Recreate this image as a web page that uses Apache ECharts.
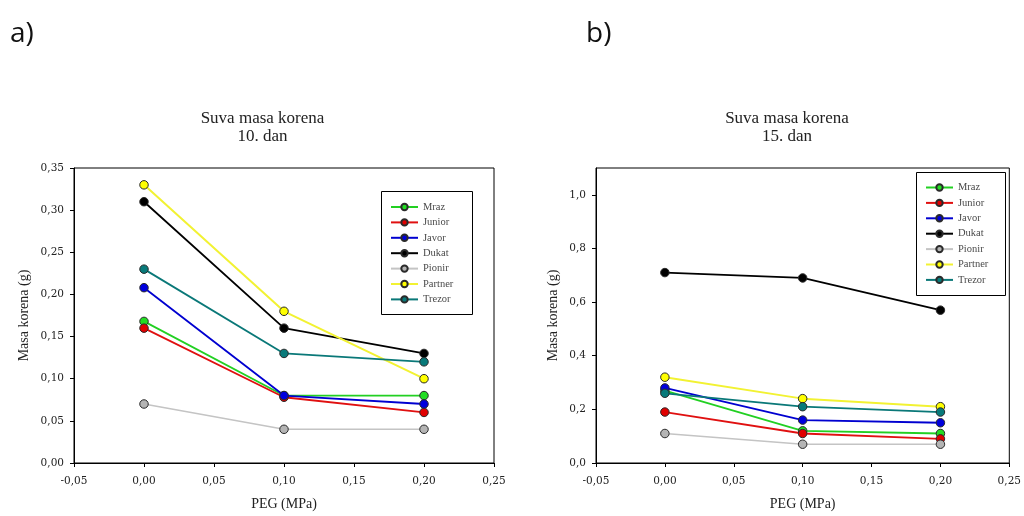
<!DOCTYPE html>
<html>
<head>
<meta charset="utf-8">
<script src="https://cdn.jsdelivr.net/npm/echarts@6/dist/echarts.min.js"></script>
<style>
  html, body { margin: 0; padding: 0; background: #fff; }
  #chart { width: 1024px; height: 516px; }
</style>
</head>
<body>
<div id="chart"></div>
<script>
// PEG concentration levels (MPa)
const peg = [0.0, 0.1, 0.2];

// Cultivar names
const cultivars = ['Mraz', 'Junior', 'Javor', 'Dukat', 'Pionir', 'Partner', 'Trezor'];

// Dry root mass (g), day 10
const day10Mraz    = [0.168, 0.080, 0.080];
const day10Junior  = [0.160, 0.078, 0.060];
const day10Javor   = [0.208, 0.080, 0.070];
const day10Dukat   = [0.310, 0.160, 0.130];
const day10Pionir  = [0.070, 0.040, 0.040];
const day10Partner = [0.330, 0.180, 0.100];
const day10Trezor  = [0.230, 0.130, 0.120];

// Dry root mass (g), day 15
const day15Mraz    = [0.27, 0.12, 0.11];
const day15Junior  = [0.19, 0.11, 0.09];
const day15Javor   = [0.28, 0.16, 0.15];
const day15Dukat   = [0.71, 0.69, 0.57];
const day15Pionir  = [0.11, 0.07, 0.07];
const day15Partner = [0.32, 0.24, 0.21];
const day15Trezor  = [0.26, 0.21, 0.19];

// Axis tick settings
const xTicks = { min: -0.05, max: 0.25, step: 0.05 };
const yTicks10 = { min: 0, max: 0.35, step: 0.05 };
const yTicks15 = { min: 0, max: 1.1, step: 0.2 };
const yTickValues15 = [0.0, 0.2, 0.4, 0.6, 0.8, 1.0];

const day10 = [day10Mraz, day10Junior, day10Javor, day10Dukat, day10Pionir, day10Partner, day10Trezor];
const day15 = [day15Mraz, day15Junior, day15Javor, day15Dukat, day15Pionir, day15Partner, day15Trezor];

// Per-cultivar look: line colour, marker fill, line width
const looks = [
  { line: '#22d022', fill: '#22dd22', w: 1.8 },
  { line: '#e01010', fill: '#e00000', w: 1.8 },
  { line: '#0000d0', fill: '#0000dd', w: 1.8 },
  { line: '#000000', fill: '#000000', w: 1.8 },
  { line: '#c4c4c4', fill: '#b4b4b4', w: 1.5 },
  { line: '#f2f232', fill: '#ffff00', w: 2.0 },
  { line: '#0a7878', fill: '#087a7a', w: 1.8 }
];

const SERIF = '"Liberation Serif", "DejaVu Serif", serif';
const TICKFONT = '"DejaVu Serif", "Liberation Serif", serif';

const comma = (v, d) => v.toFixed(d).replace('.', ',');

function makeSeries(values, axisIndex) {
  return cultivars.map((name, i) => ({
    name: name,
    type: 'line',
    xAxisIndex: axisIndex,
    yAxisIndex: axisIndex,
    data: peg.map((x, k) => [x, values[i][k]]),
    symbol: 'circle',
    symbolSize: 8.5,
    lineStyle: { color: looks[i].line, width: looks[i].w },
    itemStyle: { color: looks[i].fill, borderColor: '#2a2a2a', borderWidth: 1 },
    emphasis: { disabled: true },
    animation: false,
    z: 2 + i
  }));
}

function xAxisDef(gridIndex) {
  return {
    gridIndex: gridIndex,
    type: 'value',
    min: xTicks.min, max: xTicks.max, interval: xTicks.step,
    name: 'PEG (MPa)',
    nameLocation: 'middle',
    nameGap: 34,
    nameTextStyle: { fontFamily: SERIF, fontSize: 14, color: '#222' },
    axisLine: { show: true, onZero: false, lineStyle: { color: '#000', width: 1 } },
    axisTick: { show: true, length: 4, lineStyle: { color: '#000' } },
    axisLabel: { fontFamily: TICKFONT, fontSize: 10.5, color: '#222', margin: 13,
                 formatter: v => comma(v, 2) },
    splitLine: { show: false }
  };
}

function yAxisDef(gridIndex, t, decimals, nameGap, customValues) {
  const axis = {
    gridIndex: gridIndex,
    type: 'value',
    min: t.min, max: t.max, interval: t.step,
    name: 'Masa korena (g)',
    nameLocation: 'middle',
    nameGap: nameGap,
    nameTextStyle: { fontFamily: SERIF, fontSize: 14, color: '#222' },
    axisLine: { show: true, onZero: false, lineStyle: { color: '#000', width: 1 } },
    axisTick: { show: true, length: 4, lineStyle: { color: '#000' } },
    axisLabel: {
      fontFamily: TICKFONT, fontSize: 10.5, color: '#222', margin: 10,
      formatter: v => comma(v, decimals)
    },
    splitLine: { show: false }
  };
  if (customValues) {
    axis.axisTick.customValues = customValues;
    axis.axisLabel.customValues = customValues;
  }
  return axis;
}

function legendDef(left, top, width) {
  return {
    orient: 'vertical',
    left: left, top: top,
    padding: 0,
    itemWidth: width,
    itemHeight: 8,
    itemGap: 3.4,
    selectedMode: false,
    textStyle: { fontFamily: SERIF, fontSize: 10.5, color: '#4a4a4a', lineHeight: 12 },
    data: cultivars
  };
}

const chart = echarts.init(document.getElementById('chart'), null, { renderer: 'canvas' });

const option = {
  backgroundColor: '#ffffff',
  animation: false,
  grid: [
    { left: 74, top: 168, width: 420, height: 299, show: true, borderColor: '#000', borderWidth: 1, backgroundColor: 'transparent' },
    { left: 596, top: 168, width: 416, height: 299, show: true, borderColor: '#000', borderWidth: 1, backgroundColor: 'transparent' }
  ],
  xAxis: [xAxisDef(0), xAxisDef(1)],
  yAxis: [yAxisDef(0, yTicks10, 2, 43), yAxisDef(1, yTicks15, 1, 36, yTickValues15)],
  legend: [
    Object.assign(legendDef(390, 201, 27), { seriesIndex: [0, 1, 2, 3, 4, 5, 6] }),
    Object.assign(legendDef(925, 181.5, 27), { seriesIndex: [7, 8, 9, 10, 11, 12, 13] })
  ],
  series: makeSeries(day10, 0).concat(makeSeries(day15, 1)),
  graphic: [
    { type: 'rect', shape: { x: 381.5, y: 191.5, width: 91, height: 123 },
      style: { fill: 'none', stroke: '#000', lineWidth: 1 }, z: 1 },
    { type: 'rect', shape: { x: 916.5, y: 172.5, width: 89, height: 123 },
      style: { fill: 'none', stroke: '#000', lineWidth: 1 }, z: 1 },
    { type: 'text', left: 10, top: 20,
      style: { text: 'a)', font: '28px "Open Sans", "Noto Sans", sans-serif', fill: '#111' } },
    { type: 'text', left: 586, top: 20,
      style: { text: 'b)', font: '28px "Open Sans", "Noto Sans", sans-serif', fill: '#111' } },
    { type: 'text', x: 262.5, y: 110,
      style: { text: 'Suva masa korena\n10. dan', font: '17px ' + SERIF, fill: '#222',
               align: 'center', lineHeight: 18 } },
    { type: 'text', x: 787, y: 110,
      style: { text: 'Suva masa korena\n15. dan', font: '17px ' + SERIF, fill: '#222',
               align: 'center', lineHeight: 18 } }
  ]
};

chart.setOption(option);
</script>
</body>
</html>
